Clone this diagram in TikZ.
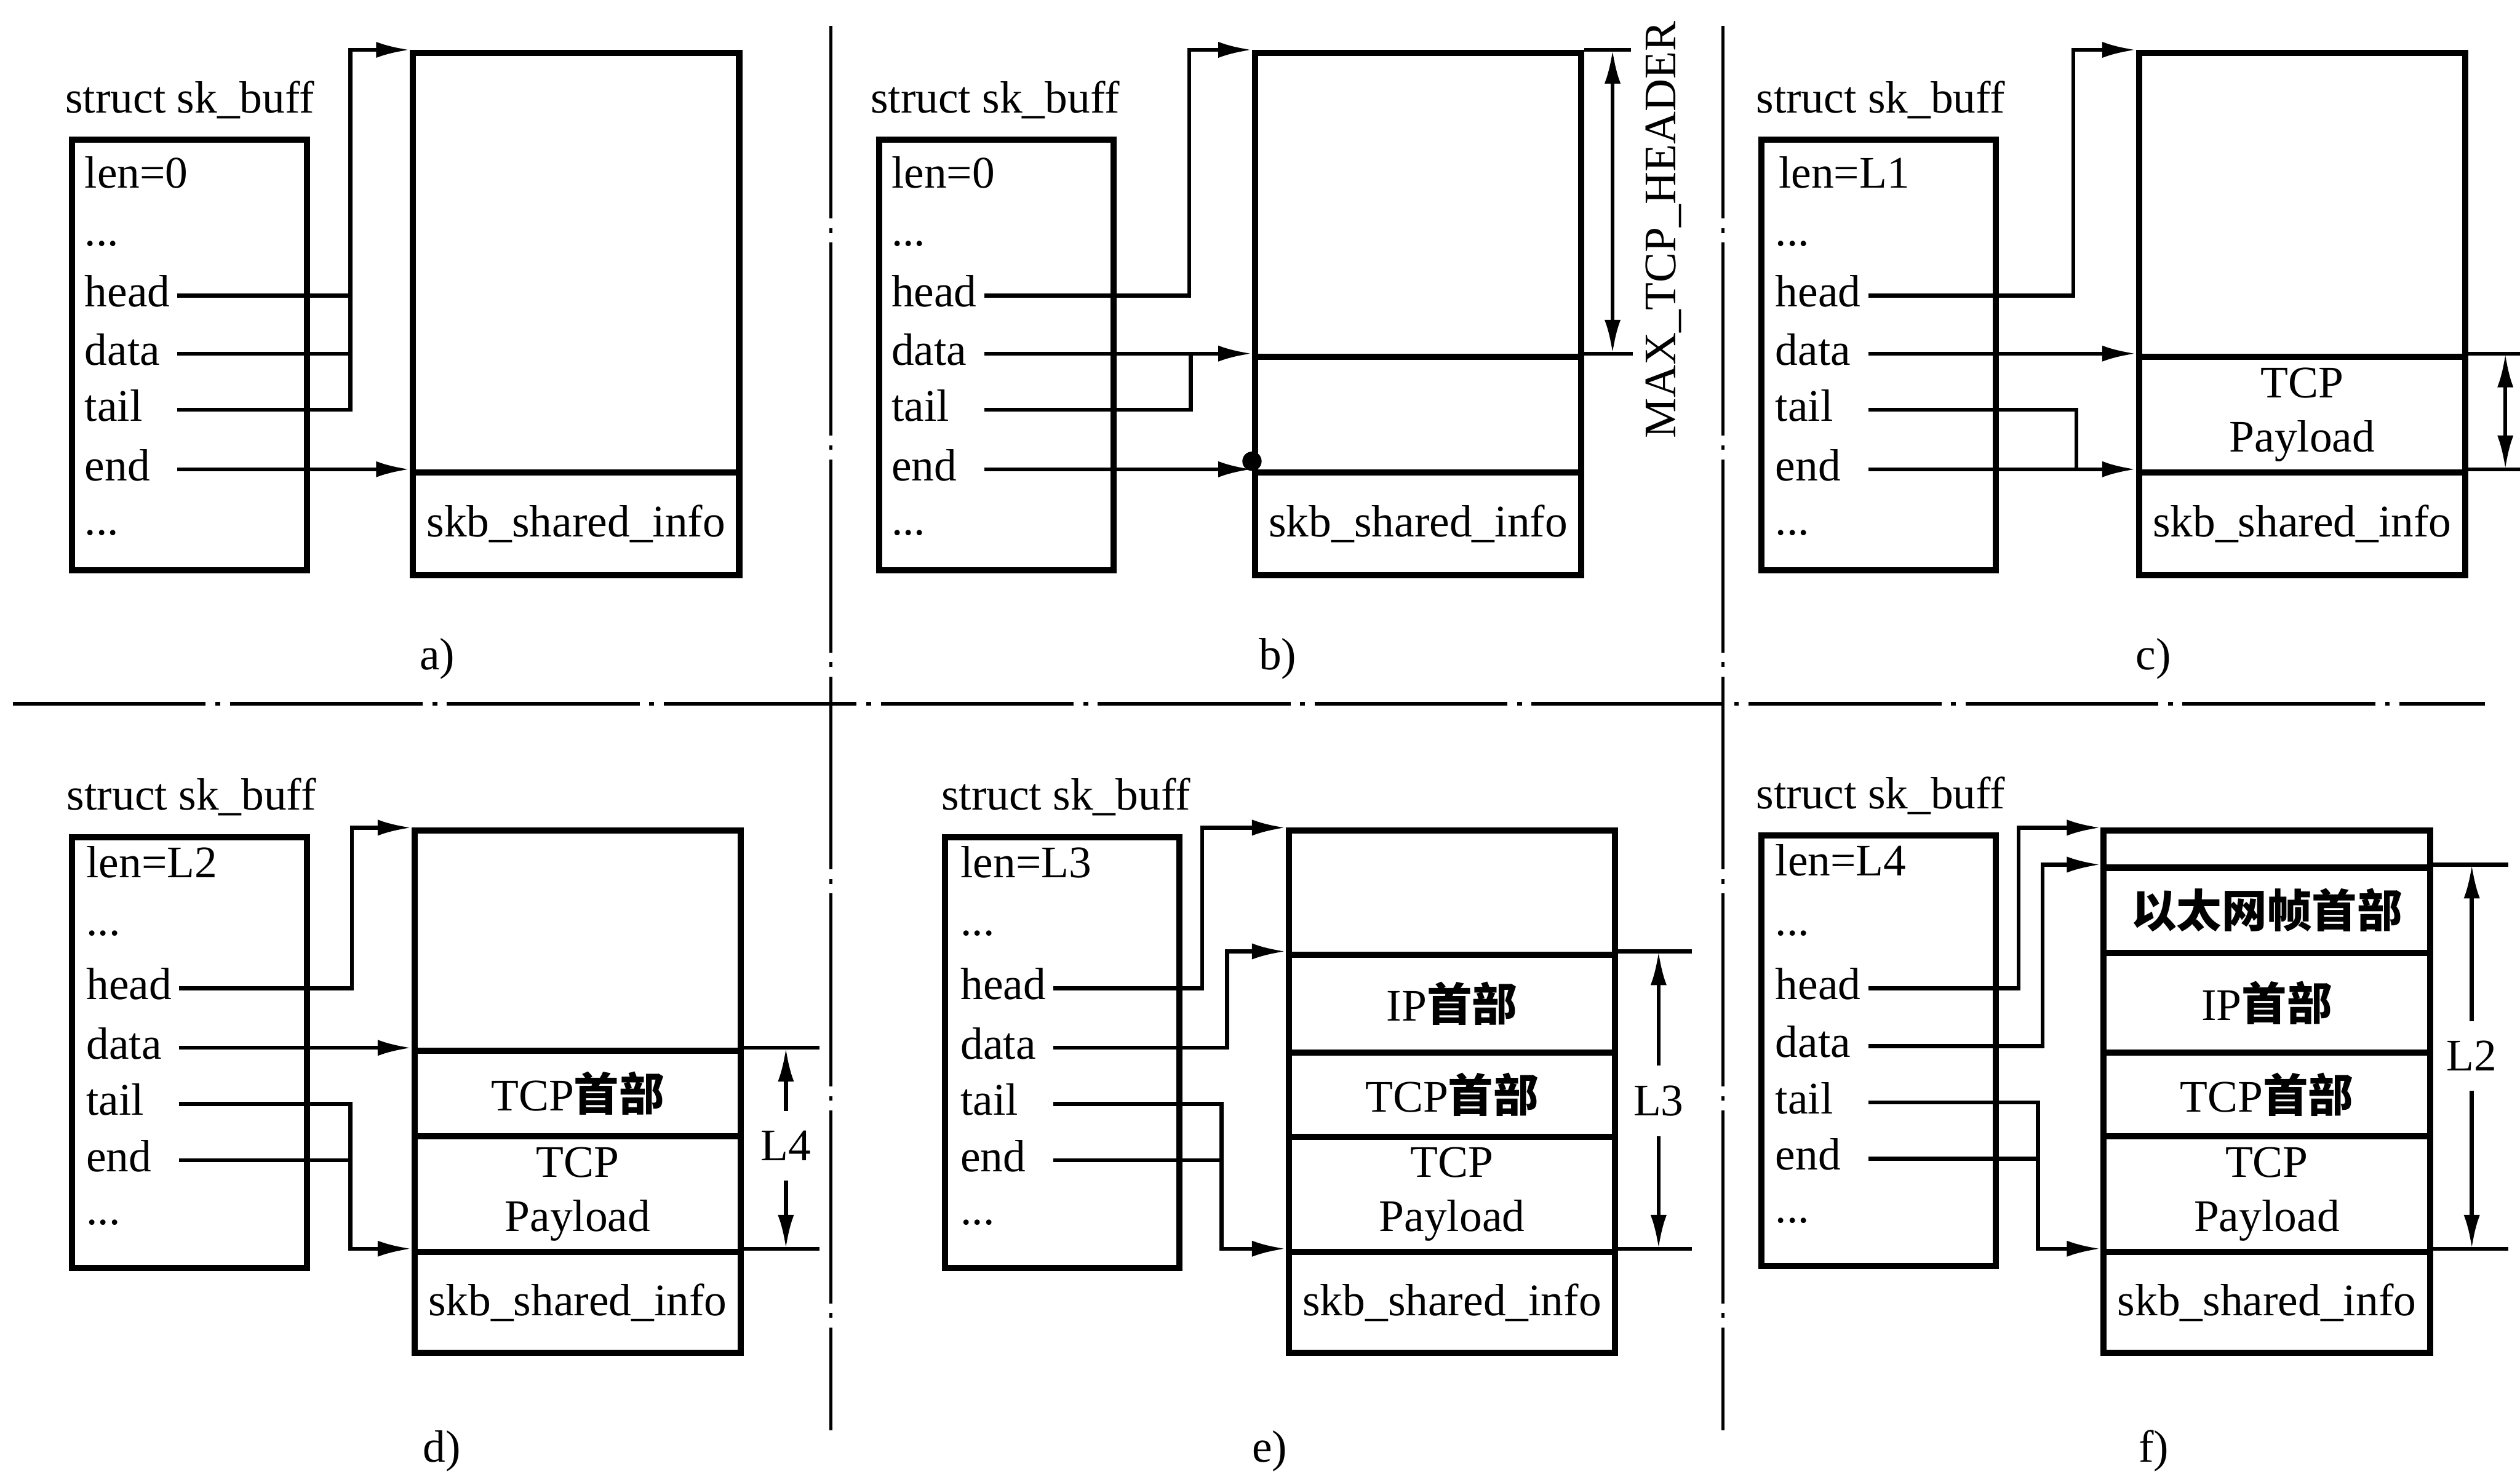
\documentclass[tikz,border=0pt]{standalone}
\usepackage{fontspec}
\setmainfont{Liberation Serif}
\newfontfamily\cjk{Noto Sans CJK SC}
\usetikzlibrary{arrows.meta, positioning}

\begin{document}
\begin{tikzpicture}[
    font=\fontsize{8}{9.6}\selectfont,
    hdr/.style={anchor=west, inner sep=0},
    skb/.style={draw, line width=1.1pt, anchor=north west, minimum width=1.46cm, minimum height=2.68cm, inner sep=0},
    seg/.style={draw, line width=1.1pt, anchor=north west, minimum width=2.03cm, inner sep=0, align=center},
    fld/.style={anchor=west, inner sep=0, text height=1.9mm, text depth=0.5mm},
    pfld/.style={fld, text width=5.7mm},
    lnk/.style={line width=0.7pt},
    ptr/.style={lnk, -{Latex[length=2.1mm, width=1.0mm]}},
    dim/.style={lnk, {Latex[length=2.1mm, width=1.0mm]}-{Latex[length=2.1mm, width=1.0mm]}},
    sep/.style={line width=0.6pt, dash pattern=on 1.2cm off 0.06cm on 0.03cm off 0.06cm}
]
    \useasboundingbox (0, 0) rectangle (15.68, -9.17);

    % separators
    \coordinate (sepT1) at (5.17, -0.16);
    \coordinate (sepB1) at (5.17, -8.90);
    \coordinate (sepT2) at (10.72, -0.16);
    \coordinate (sepB2) at (10.72, -8.90);
    \coordinate (sepL) at (0.08, -4.38);
    \coordinate (sepR) at (15.46, -4.38);
    \draw[sep] (sepT1) -- (sepB1);
    \draw[sep] (sepT2) -- (sepB2);
    \draw[sep] (sepL) -- (sepR);

    % a)
    \node[hdr] (aTitle) at (0.40, -0.62) {struct sk\_buff};
    \node[skb] (aSkb) at (0.43, -0.85) {};
    \node[fld] (aLen) at (0.52, -1.10) {len=0};
    \node[fld] (aDot1) at (0.52, -1.46) {...};
    \node[pfld] (aHead) at (0.52, -1.84) {head};
    \node[pfld] (aData) at (0.52, -2.20) {data};
    \node[pfld] (aTail) at (0.52, -2.55) {tail};
    \node[pfld] (aEnd) at (0.52, -2.92) {end};
    \node[fld] (aDot2) at (0.52, -3.26) {...};
    \node[seg, minimum height=2.61cm] (aFree) at (2.55, -0.31) {};
    \node[seg, minimum height=0.64cm] (aInfo) at (2.55, -2.92) {skb\_shared\_info};
    \coordinate (aBend) at (2.18, -0.31);
    \draw[ptr] (aTail.east) -| (aBend) -- (aFree.north west);
    \draw[lnk] (aHead.east) -- (aHead.east -| aBend);
    \draw[lnk] (aData.east) -- (aData.east -| aBend);
    \draw[ptr] (aEnd.east) -- (aInfo.north west);
    \node (aCap) at (2.72, -4.10) {a)};

    % b)
    \node[hdr] (bTitle) at (5.41, -0.62) {struct sk\_buff};
    \node[skb] (bSkb) at (5.45, -0.85) {};
    \node[fld] (bLen) at (5.54, -1.10) {len=0};
    \node[fld] (bDot1) at (5.54, -1.46) {...};
    \node[pfld] (bHead) at (5.54, -1.84) {head};
    \node[pfld] (bData) at (5.54, -2.20) {data};
    \node[pfld] (bTail) at (5.54, -2.55) {tail};
    \node[pfld] (bEnd) at (5.54, -2.92) {end};
    \node[fld] (bDot2) at (5.54, -3.26) {...};
    \node[seg, minimum height=1.89cm] (bFree) at (7.79, -0.31) {};
    \node[seg, minimum height=0.72cm] (bMid) at (7.79, -2.20) {};
    \node[seg, minimum height=0.64cm] (bInfo) at (7.79, -2.92) {skb\_shared\_info};
    \coordinate (bBend) at (7.40, -0.31);
    \coordinate (bJoin) at (7.41, -2.20);
    \draw[ptr] (bHead.east) -| (bBend) -- (bFree.north west);
    \draw[ptr] (bData.east) -- (bMid.north west);
    \draw[lnk] (bTail.east) -| (bJoin);
    \draw[ptr] (bEnd.east) -- (bInfo.north west);
    \fill ([yshift=0.5mm]bInfo.north west) circle (0.6mm);
    \draw[lnk] (bFree.north east) -- ([xshift=2.9mm]bFree.north east);
    \draw[lnk] (bMid.north east) -- ([xshift=3.0mm]bMid.north east);
    \draw[dim] ([xshift=1.75mm]bFree.north east) -- ([xshift=1.75mm]bMid.north east);
    \node[rotate=90] (bMax) at (10.35, -1.43) {MAX\_TCP\_HEADER};
    \node (bCap) at (7.95, -4.10) {b)};

    % c)
    \node[hdr] (cTitle) at (10.92, -0.62) {struct sk\_buff};
    \node[skb] (cSkb) at (10.94, -0.85) {};
    \node[fld] (cLen) at (11.06, -1.10) {len=L1};
    \node[fld] (cDot1) at (11.04, -1.46) {...};
    \node[pfld] (cHead) at (11.04, -1.84) {head};
    \node[pfld] (cData) at (11.04, -2.20) {data};
    \node[pfld] (cTail) at (11.04, -2.55) {tail};
    \node[pfld] (cEnd) at (11.04, -2.92) {end};
    \node[fld] (cDot2) at (11.04, -3.26) {...};
    \node[seg, minimum height=1.89cm] (cFree) at (13.29, -0.31) {};
    \node[seg, minimum height=0.72cm] (cPay) at (13.29, -2.20) {TCP\\Payload};
    \node[seg, minimum height=0.64cm] (cInfo) at (13.29, -2.92) {skb\_shared\_info};
    \coordinate (cBend) at (12.90, -0.31);
    \coordinate (cJoin) at (12.92, -2.92);
    \draw[ptr] (cHead.east) -| (cBend) -- (cFree.north west);
    \draw[ptr] (cData.east) -- (cPay.north west);
    \draw[lnk] (cTail.east) -| (cJoin);
    \draw[ptr] (cEnd.east) -- (cInfo.north west);
    \draw[lnk] (cPay.north east) -- ([xshift=3.5mm]cPay.north east);
    \draw[lnk] (cInfo.north east) -- ([xshift=3.5mm]cInfo.north east);
    \draw[dim] ([xshift=2.3mm]cPay.north east) -- ([xshift=2.3mm]cInfo.north east);
    \node (cCap) at (13.40, -4.10) {c)};

    % d)
    \node[hdr] (dTitle) at (0.41, -4.96) {struct sk\_buff};
    \node[skb] (dSkb) at (0.43, -5.19) {};
    \node[fld] (dLen) at (0.53, -5.39) {len=L2};
    \node[fld] (dDot1) at (0.53, -5.75) {...};
    \node[pfld] (dHead) at (0.53, -6.15) {head};
    \node[pfld] (dData) at (0.53, -6.52) {data};
    \node[pfld] (dTail) at (0.53, -6.87) {tail};
    \node[pfld] (dEnd) at (0.53, -7.22) {end};
    \node[fld] (dDot2) at (0.53, -7.55) {...};
    \node[seg, minimum height=1.37cm] (dFree) at (2.56, -5.15) {};
    \node[seg, minimum height=0.53cm] (dTcpH) at (2.56, -6.52) {TCP{\cjk\bfseries 首部}};
    \node[seg, minimum height=0.72cm] (dPay) at (2.56, -7.05) {TCP\\Payload};
    \node[seg, minimum height=0.63cm] (dInfo) at (2.56, -7.77) {skb\_shared\_info};
    \coordinate (dBend) at (2.19, -5.15);
    \coordinate (dBend2) at (2.18, -7.77);
    \draw[ptr] (dHead.east) -| (dBend) -- (dFree.north west);
    \draw[ptr] (dData.east) -- (dTcpH.north west);
    \draw[ptr] (dTail.east) -| (dBend2) -- (dInfo.north west);
    \draw[lnk] (dEnd.east) -- (dEnd.east -| dBend2);
    \draw[lnk] (dTcpH.north east) -- ([xshift=4.7mm]dTcpH.north east);
    \draw[lnk] (dInfo.north east) -- ([xshift=4.7mm]dInfo.north east);
    \node (dL4) at (4.89, -7.13) {L4};
    \draw[ptr] (dL4.north) -- (dL4.north |- dTcpH.north);
    \draw[ptr] (dL4.south) -- (dL4.south |- dInfo.north);
    \node (dCap) at (2.75, -9.03) {d)};

    % e)
    \node[hdr] (eTitle) at (5.85, -4.96) {struct sk\_buff};
    \node[skb] (eSkb) at (5.86, -5.19) {};
    \node[fld] (eLen) at (5.97, -5.39) {len=L3};
    \node[fld] (eDot1) at (5.97, -5.75) {...};
    \node[pfld] (eHead) at (5.97, -6.15) {head};
    \node[pfld] (eData) at (5.97, -6.52) {data};
    \node[pfld] (eTail) at (5.97, -6.87) {tail};
    \node[pfld] (eEnd) at (5.97, -7.22) {end};
    \node[fld] (eDot2) at (5.97, -7.55) {...};
    \node[seg, minimum height=0.77cm] (eFree) at (8.00, -5.15) {};
    \node[seg, minimum height=0.61cm] (eIpH) at (8.00, -5.92) {IP{\cjk\bfseries 首部}};
    \node[seg, minimum height=0.525cm] (eTcpH) at (8.00, -6.53) {TCP{\cjk\bfseries 首部}};
    \node[seg, minimum height=0.715cm] (ePay) at (8.00, -7.055) {TCP\\Payload};
    \node[seg, minimum height=0.63cm] (eInfo) at (8.00, -7.77) {skb\_shared\_info};
    \coordinate (eBend) at (7.48, -5.15);
    \coordinate (eBend2) at (7.635, -5.92);
    \coordinate (eBend3) at (7.60, -7.77);
    \draw[ptr] (eHead.east) -| (eBend) -- (eFree.north west);
    \draw[ptr] (eData.east) -| (eBend2) -- (eIpH.north west);
    \draw[ptr] (eTail.east) -| (eBend3) -- (eInfo.north west);
    \draw[lnk] (eEnd.east) -- (eEnd.east -| eBend3);
    \draw[lnk] (eIpH.north east) -- ([xshift=4.6mm]eIpH.north east);
    \draw[lnk] (eInfo.north east) -- ([xshift=4.6mm]eInfo.north east);
    \node (eL3) at (10.32, -6.85) {L3};
    \draw[ptr] (eL3.north) -- (eL3.north |- eIpH.north);
    \draw[ptr] (eL3.south) -- (eL3.south |- eInfo.north);
    \node (eCap) at (7.90, -9.03) {e)};

    % f)
    \node[hdr] (fTitle) at (10.92, -4.95) {struct sk\_buff};
    \node[skb] (fSkb) at (10.94, -5.18) {};
    \node[fld] (fLen) at (11.04, -5.38) {len=L4};
    \node[fld] (fDot1) at (11.04, -5.75) {...};
    \node[pfld] (fHead) at (11.04, -6.15) {head};
    \node[pfld] (fData) at (11.04, -6.51) {data};
    \node[pfld] (fTail) at (11.04, -6.86) {tail};
    \node[pfld] (fEnd) at (11.04, -7.21) {end};
    \node[fld] (fDot2) at (11.04, -7.54) {...};
    \node[seg, minimum height=0.23cm] (fFree) at (13.07, -5.15) {};
    \node[seg, minimum height=0.53cm] (fEth) at (13.07, -5.38) {{\cjk\bfseries 以太网帧首部}};
    \node[seg, minimum height=0.62cm] (fIpH) at (13.07, -5.91) {IP{\cjk\bfseries 首部}};
    \node[seg, minimum height=0.52cm] (fTcpH) at (13.07, -6.53) {TCP{\cjk\bfseries 首部}};
    \node[seg, minimum height=0.72cm] (fPay) at (13.07, -7.05) {TCP\\Payload};
    \node[seg, minimum height=0.63cm] (fInfo) at (13.07, -7.77) {skb\_shared\_info};
    \coordinate (fBend) at (12.56, -5.15);
    \coordinate (fBend2) at (12.71, -5.38);
    \coordinate (fBend3) at (12.68, -7.77);
    \draw[ptr] (fHead.east) -| (fBend) -- (fFree.north west);
    \draw[ptr] (fData.east) -| (fBend2) -- (fEth.north west);
    \draw[ptr] (fTail.east) -| (fBend3) -- (fInfo.north west);
    \draw[lnk] (fEnd.east) -- (fEnd.east -| fBend3);
    \draw[lnk] (fEth.north east) -- ([xshift=4.7mm]fEth.north east);
    \draw[lnk] (fInfo.north east) -- ([xshift=4.7mm]fInfo.north east);
    \node (fL2) at (15.38, -6.57) {L2};
    \draw[ptr] (fL2.north) -- (fL2.north |- fEth.north);
    \draw[ptr] (fL2.south) -- (fL2.south |- fInfo.north);
    \node (fCap) at (13.40, -9.03) {f)};
\end{tikzpicture}
\end{document}
